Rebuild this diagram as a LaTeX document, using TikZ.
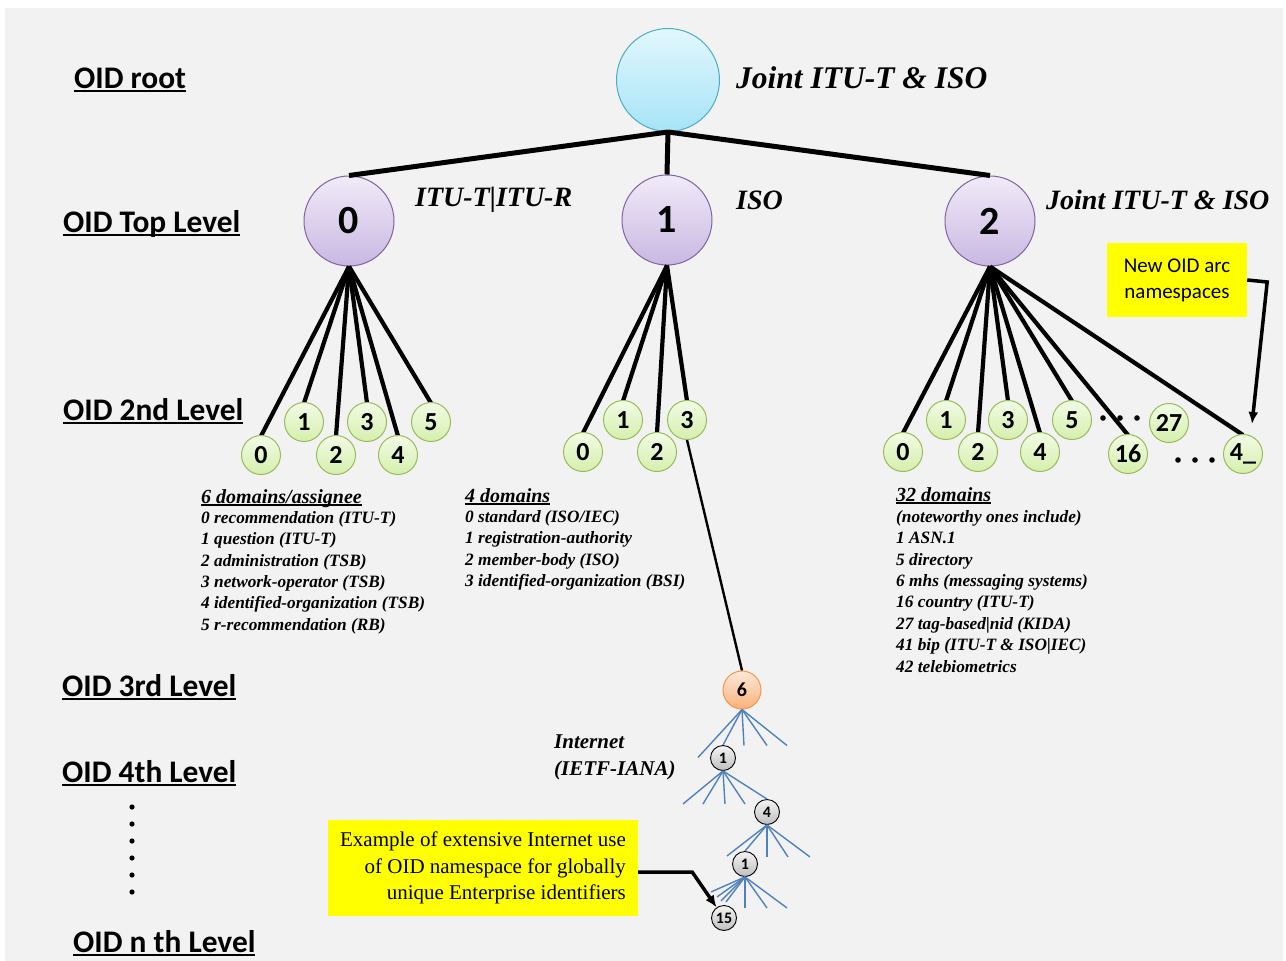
\documentclass[tikz,border=0pt]{standalone}
\usepackage{fontspec}
\setmainfont{Liberation Serif}
\newfontfamily\calfont{Carlito}
\usetikzlibrary{arrows.meta}

\definecolor{bggray}{HTML}{F2F2F2}
\definecolor{roottop}{HTML}{E2F7FD}
\definecolor{rootbot}{HTML}{A6E4F7}
\definecolor{rootline}{HTML}{4BACC6}
\definecolor{toptop}{HTML}{F0EBF8}
\definecolor{topbot}{HTML}{C9B8E2}
\definecolor{topline}{HTML}{8064A2}
\definecolor{arctop}{HTML}{F2FBE6}
\definecolor{arcbot}{HTML}{D5EFAC}
\definecolor{arcline}{HTML}{9BBB59}
\definecolor{sixtop}{HTML}{FDE9D9}
\definecolor{sixbot}{HTML}{FAB27A}
\definecolor{sixline}{HTML}{F79646}
\definecolor{nettop}{HTML}{F4F4F4}
\definecolor{netbot}{HTML}{BFBFBF}
\definecolor{fanblue}{HTML}{4F81BD}
\definecolor{noteyellow}{HTML}{FFFF00}

% underline that sits just under the baseline
\newcommand{\ulabel}[1]{\setbox0\hbox{#1}\rlap{\rule[-0.14em]{\wd0}{0.08em}}\box0}

\tikzset{
  level/.style={font=\calfont\bfseries\fontsize{31.4}{31.4}\selectfont, anchor=base west, inner sep=0},
  owner/.style={font=\bfseries\itshape\fontsize{28}{28}\selectfont, anchor=west, inner sep=0},
  rootnode/.style={circle, minimum size=103, inner sep=0, top color=roottop, bottom color=rootbot, draw=rootline, line width=1},
  topnode/.style={circle, minimum size=90, inner sep=0, top color=toptop, bottom color=topbot, draw=topline, line width=1,
    font=\calfont\bfseries\fontsize{40}{40}\selectfont},
  arcnode/.style={circle, minimum size=39, inner sep=0, top color=arctop, bottom color=arcbot, draw=arcline, line width=1,
    font=\calfont\bfseries\fontsize{26}{26}\selectfont},
  sixnode/.style={circle, minimum size=38, inner sep=0, top color=sixtop, bottom color=sixbot, draw=sixline, line width=1,
    font=\calfont\bfseries\fontsize{20}{20}\selectfont},
  netnode/.style={circle, minimum size=25, inner sep=0, top color=nettop, bottom color=netbot, draw=black, line width=0.9,
    font=\calfont\bfseries\fontsize{16}{16}\selectfont},
  trunk/.style={line width=5},
  branch/.style={line width=4.2},
  fan/.style={fanblue, line width=1.4},
  listhead/.style={font=\bfseries\itshape\fontsize{20}{20}\selectfont, anchor=base west, inner sep=0},
  listbody/.style={font=\bfseries\itshape\fontsize{17.3}{21.4}\selectfont, anchor=north west, inner sep=0, align=left},
  note/.style={fill=noteyellow, inner sep=0},
  pointer/.style={line width=3.5, -{Latex[length=12,width=10]}}
}

\begin{document}
\begin{tikzpicture}[x=1pt,y=-1pt]
  \useasboundingbox (0,0) rectangle (1286,961);
  \fill[white] (0,0) rectangle (1286,961);
  \fill[bggray] (5,8) rectangle (1283,961);

  % level names on the left
  \node[level] (lroot)   at (74,88)  {\ulabel{OID root}};
  \node[level] (ltop)    at (63,232) {\ulabel{OID Top Level}};
  \node[level] (lsecond) at (63,420) {\ulabel{OID 2nd Level}};
  \node[level] (lthird)  at (62,696) {\ulabel{OID 3rd Level}};
  \node[level] (lfourth) at (62,782) {\ulabel{OID 4th Level}};
  \node[level] (lnth)    at (73,952) {\ulabel{OID n th Level}};
  \foreach \y in {807,824,841,858,875,892}
    \fill (132,\y) circle (2.6);

  % root and top level arcs
  \node[rootnode] (root) at (668,80) {};
  \node[owner, font=\bfseries\itshape\fontsize{31.5}{31.5}\selectfont] (oroot) at (736,78) {Joint ITU-T \& ISO};
  \node[topnode] (t0) at (349,221) {0};
  \node[topnode] (t1) at (667,220) {1};
  \node[topnode] (t2) at (990,221) {2};
  \foreach \t in {t0,t1,t2}
    \draw[trunk] (root.south) -- (\t.north);
  \node[owner] (ot0) at (415,200)  {ITU-T|ITU-R};
  \node[owner] (ot1) at (736,200)  {ISO};
  \node[owner] (ot2) at (1046,200) {Joint ITU-T \& ISO};

  % second level
  \foreach \n/\x/\y in {0/261/455,1/304/422,2/336/455,3/367/422,4/398/455,5/431/422}{%
    \draw[branch] (t0.south) -- (\x,\y-19);
    \node[arcnode] (s0\n) at (\x,\y) {\n};
  }
  \foreach \n/\x/\y in {0/583/452,1/623/420,2/657/452,3/687/420}{%
    \draw[branch] (t1.south) -- (\x,\y-19);
    \node[arcnode] (s1\n) at (\x,\y) {\n};
  }
  \foreach \n/\x/\y in {0/903/452,1/946/420,2/978/452,3/1008/420,4/1040/452,5/1072/420,16/1128/454}{%
    \draw[branch] (t2.south) -- (\x,\y-19);
    \node[arcnode] (s2\n) at (\x,\y) {\n};
  }
  \draw[branch] (t2.south) -- (1243,435);
  \node[arcnode] (s2x) at (1243,454) {4\_};
  \node[arcnode] (s227) at (1169,423) {27};
  \foreach \x in {1103,1120,1137} \fill (\x,418) circle (2.8);
  \foreach \x in {1178,1195,1212} \fill (\x,460) circle (2.8);

  \node[note, minimum width=140, minimum height=74, align=center,
    font=\calfont\fontsize{21}{26}\selectfont] (newarc) at (1177,280) {New OID arc\\namespaces};
  \coordinate (arctip) at (1252,424);
  \draw[pointer] (newarc.east) -- ++(20,2) -- (arctip);

  % domain lists
  \node[listhead] (h0) at (201,503) {\ulabel{6 domains/assignee}};
  \node[listbody] (d0) at (201,511) {0 recommendation (ITU-T)\\1 question (ITU-T)\\2 administration (TSB)\\
    3 network-operator (TSB)\\4 identified-organization (TSB)\\5 r-recommendation (RB)};
  \node[listhead] (h1) at (465,502) {\ulabel{4 domains}};
  \node[listbody] (d1) at (465,510) {0 standard (ISO/IEC)\\1 registration-authority\\2 member-body (ISO)\\
    3 identified-organization (BSI)};
  \node[listhead] (h2) at (896,501) {\ulabel{32 domains}};
  \node[listbody] (d2) at (896,510) {(noteworthy ones include)\\1 ASN.1\\5 directory\\6 mhs (messaging systems)\\
    16 country (ITU-T)\\27 tag-based|nid (KIDA)\\41 bip (ITU-T \& ISO|IEC)\\42 telebiometrics};

  % internet branch
  \node[sixnode] (n6) at (742,690) {6};
  \draw[line width=2.4] (s13.south) -- (n6.north);
  \node[font=\bfseries\itshape\fontsize{21}{27}\selectfont, align=left, anchor=west, inner sep=0]
    (inet) at (554,757) {Internet\\(IETF-IANA)};
  \node[netnode] (m1)  at (723,758) {1};
  \node[netnode] (m4)  at (767,812) {4};
  \node[netnode] (m1b) at (745,864) {1};
  \node[netnode] (m15) at (724,918) {15};
  \foreach \dx/\dy in {-44/48,2/36,25/36,45/36} \draw[fan] (n6.south) -- ++(\dx,\dy);
  \draw[fan] (n6.south) -- (m1.north);
  \foreach \dx/\dy in {-40/33,-20/33,2/33,22/33} \draw[fan] (m1.south) -- ++(\dx,\dy);
  \draw[fan] (m1.south) -- (m4.north);
  \foreach \dx/\dy in {-40/31,0/32,21/32,43/32} \draw[fan] (m4.south) -- ++(\dx,\dy);
  \draw[fan] (m4.south) -- (m1b.north);
  \foreach \dx/\dy in {-34/15,-28/20,-24/24,-19/25,0/31,22/31,42/31} \draw[fan] (m1b.south) -- ++(\dx,\dy);

  \node[note, minimum width=310, minimum height=96, align=right,
    font=\fontsize{21}{26.5}\selectfont] (example) at (483,868)
    {Example of extensive Internet use\\of OID namespace for globally\\unique Enterprise identifiers};
  \draw[pointer] ([yshift=-4pt]example.east) -- ++(54,0) -- (m15.125);
\end{tikzpicture}
\end{document}
